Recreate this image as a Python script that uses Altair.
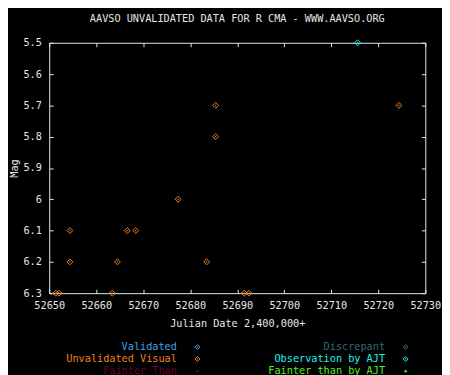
import altair as alt
import pandas as pd

# ---- data ----
jd_unvalidated = [52651.4, 52652.1, 52654.4, 52654.4, 52663.4, 52664.5, 52666.6,
                  52668.4, 52677.4, 52683.5, 52685.4, 52685.4, 52691.5, 52692.5, 52724.4]
mag_unvalidated = [6.3, 6.3, 6.1, 6.2, 6.3, 6.2, 6.1,
                   6.1, 6.0, 6.2, 5.7, 5.8, 6.3, 6.3, 5.7]
jd_ajt = [52715.6]
mag_ajt = [5.5]

x_ticks = [52650, 52660, 52670, 52680, 52690, 52700, 52710, 52720, 52730]
y_ticks = [5.5, 5.6, 5.7, 5.8, 5.9, 6.0, 6.1, 6.2, 6.3]

legend_labels = ["Validated", "Unvalidated Visual", "Fainter Than",
                 "Discrepant", "Observation by AJT", "Fainter than by AJT"]
legend_colors = ["#3fa4ec", "#f08020", "#660033", "#2f6f6f", "#20f0f0", "#55ee22"]
legend_shapes = ["diamond", "diamond", "triangle-up", "diamond", "diamond", "triangle-up"]
legend_col = [0, 0, 0, 1, 1, 1]
legend_row = [0, 1, 2, 0, 1, 2]

FONT = "DejaVu Sans Mono"
FS = 10.4
AXIS_COLOR = "#d8f0f0"
TEXT_COLOR = "#e6e6e6"

points = pd.DataFrame({
    "jd": jd_unvalidated + jd_ajt,
    "mag": mag_unvalidated + mag_ajt,
    "color": [legend_colors[1]] * len(jd_unvalidated) + [legend_colors[4]] * len(jd_ajt),
})

x_scale = alt.Scale(domain=[52650, 52730], nice=False, zero=False)
y_scale = alt.Scale(domain=[5.5, 6.3], reverse=True, nice=False, zero=False)

base = alt.Chart(points)

pts = base.mark_point(shape="diamond", size=36, filled=False, strokeWidth=1, opacity=1).encode(
    x=alt.X("jd:Q", scale=x_scale,
            axis=alt.Axis(values=x_ticks, format="d", title="Julian Date 2,400,000+",
                          offset=-4, domain=False, tickSize=4, labelPadding=8,
                          labelFlush=False, titlePadding=8, grid=False)),
    y=alt.Y("mag:Q", scale=y_scale,
            axis=alt.Axis(values=y_ticks, format=".1~f", title="Mag",
                          offset=-4, domain=False, tickSize=4, labelPadding=8,
                          labelFlush=False, titlePadding=4, grid=False)),
    color=alt.Color("color:N", scale=None),
)
dots = base.mark_square(size=1.5, opacity=1).encode(
    x=alt.X("jd:Q", axis=None),
    y=alt.Y("mag:Q", axis=None),
    color=alt.Color("color:N", scale=None),
)
mirror = base.mark_point(opacity=0).encode(
    x=alt.X("jd:Q", axis=alt.Axis(orient="top", values=x_ticks, labels=False, title="",
                                   offset=-4, domain=False, tickSize=4, grid=False)),
    y=alt.Y("mag:Q", axis=alt.Axis(orient="right", values=y_ticks, labels=False, title="",
                                    offset=-4, domain=False, tickSize=4, grid=False)),
)

main = alt.layer(pts, dots, mirror).resolve_axis(x="independent", y="independent").properties(
    width=383, height=255,
    title=alt.Title("AAVSO UNVALIDATED DATA FOR R CMA - WWW.AAVSO.ORG",
                    font=FONT, fontSize=FS, fontWeight="normal", color=TEXT_COLOR, offset=14),
    view=alt.ViewBackground(stroke=AXIS_COLOR, strokeWidth=1),
)

legend_df = pd.DataFrame({
    "label": legend_labels, "color": legend_colors, "shape": legend_shapes,
    "col": legend_col, "row": legend_row,
})
lbase = alt.Chart(legend_df).encode(
    x=alt.X("col:Q", scale=alt.Scale(domain=[0, 1], range=[151, 363]), axis=None),
    y=alt.Y("row:O", scale=alt.Scale(type="point", padding=0.5), axis=None),
    color=alt.Color("color:N", scale=None),
)
ltext = lbase.mark_text(align="right", baseline="middle", dx=-21, font=FONT, fontSize=FS).encode(
    text="label:N")
ldiam = lbase.transform_filter(alt.datum.shape == "diamond").mark_point(
    shape="diamond", size=25, filled=False, strokeWidth=1, opacity=1)
ldot = lbase.transform_filter(alt.datum.shape == "diamond").mark_square(size=1.5, opacity=1)
ltri = lbase.transform_filter(alt.datum.shape == "triangle-up").mark_point(
    shape="triangle-up", size=12, filled=True, opacity=1)

legend = alt.layer(ltext, ldiam, ldot, ltri).properties(
    width=383, height=36, view=alt.ViewBackground(strokeOpacity=0))

chart = alt.vconcat(main, legend, spacing=49, bounds="flush").configure(
    background="black", padding={"left": 0, "top": 2, "right": 0, "bottom": 0}
).configure_axis(
    labelFont=FONT, labelFontSize=FS, labelColor=TEXT_COLOR,
    titleFont=FONT, titleFontSize=FS, titleColor=TEXT_COLOR, titleFontWeight="normal",
    tickColor=AXIS_COLOR, tickWidth=1,
)

chart.save("out.html", embed_options={"renderer": "svg", "actions": False})
